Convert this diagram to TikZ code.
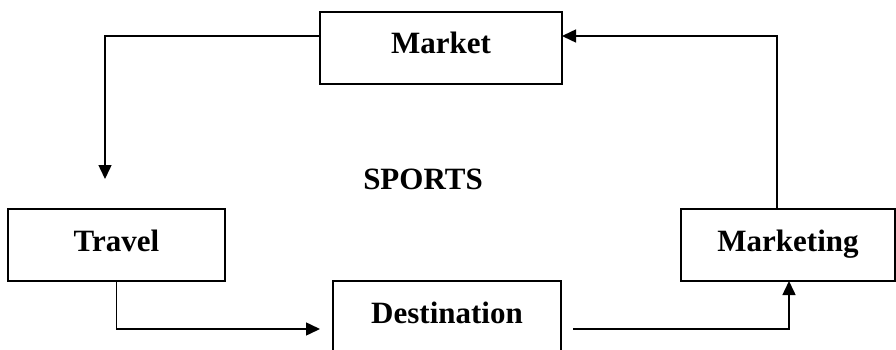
\documentclass[tikz,border=0pt]{standalone}
\usepackage{fontspec}
\setmainfont{Liberation Serif}
\usetikzlibrary{arrows.meta}
\begin{document}
\begin{tikzpicture}[x=1pt,y=-1pt,
  box/.style={draw,line width=1.5pt,inner sep=0pt,outer sep=0pt,
    minimum height=72pt,text height=21pt,text depth=9pt,
    font=\fontsize{31}{36}\selectfont\bfseries},
  conn/.style={line width=1.5pt,-{Triangle[length=14pt,width=13pt]}},
  lbl/.style={inner sep=0pt,font=\fontsize{31}{36}\selectfont\bfseries}]
\useasboundingbox (0,0) rectangle (896,350);
\node[box,minimum width=242pt] (market) at (441,48) {Market};
\node[box,minimum width=217pt] (travel) at (116.5,245) {Travel};
\node[box,minimum width=214pt] (marketing) at (788,245) {Marketing};
\node[box,minimum width=228pt] (dest) at (447,317) {Destination};
\node[lbl,anchor=base] (sports) at (423,189) {SPORTS};
\coordinate (t1) at (105,179);
\coordinate (t2) at (320,329);
\coordinate (s3) at (573,329);
\draw[conn] ([yshift=12pt]market.west) -| (t1);
\draw[conn] (travel.south) |- (t2);
\draw[conn] (s3) -| ([xshift=1pt]marketing.south);
\draw[conn] ([xshift=-11pt]marketing.north) |- ([yshift=12pt]market.east);
\end{tikzpicture}
\end{document}
